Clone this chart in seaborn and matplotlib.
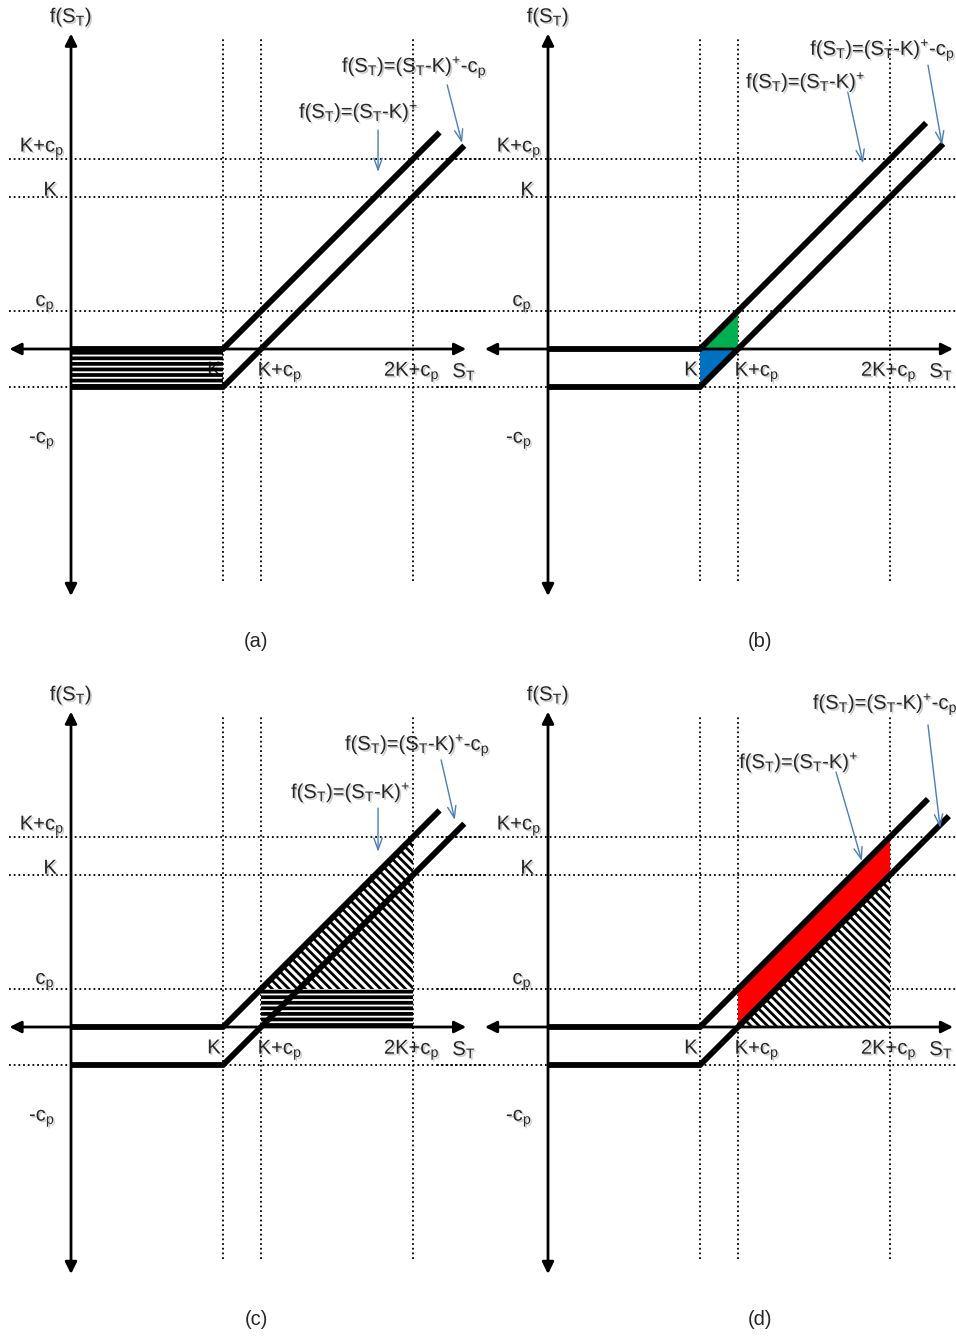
import matplotlib
matplotlib.use('Agg')
import matplotlib.pyplot as plt
import matplotlib.patheffects as pe
import seaborn as sns

sns.set_theme(style='white')
plt.rcParams['font.family'] = ['Liberation Sans', 'DejaVu Sans']
plt.rcParams['mathtext.fontset'] = 'custom'
plt.rcParams['mathtext.rm'] = 'Liberation Sans'
plt.rcParams['mathtext.it'] = 'Liberation Sans:italic'
plt.rcParams['hatch.linewidth'] = 2.5
plt.rcParams['hatch.color'] = 'black'

# parametros da opcao (unidades do desenho)
K = 4.0
cp = 1.0

panel_names = ['(a)', '(b)', '(c)', '(d)']
y_levels = [K + cp, K, cp, -cp]
y_tick_text = ['K+c$_\\mathrm{p}$', 'K', 'c$_\\mathrm{p}$', '-c$_\\mathrm{p}$']
x_levels = [K, K + cp, 2 * K + cp]
x_tick_text = ['K', 'K+c$_\\mathrm{p}$', '2K+c$_\\mathrm{p}$', 'S$_\\mathrm{T}$']
f_text = 'f(S$_\\mathrm{T}$)'
long_text = 'f(S$_\\mathrm{T}$)=(S$_\\mathrm{T}$-K)$^\\mathrm{+}$'
net_text = 'f(S$_\\mathrm{T}$)=(S$_\\mathrm{T}$-K)$^\\mathrm{+}$-c$_\\mathrm{p}$'

# fim das duas retas de payoff, lido em cada painel
st_long_end = [9.7, 9.95, 9.7, 10.0]
f_long_end = [5.7, 5.95, 5.7, 6.0]
st_net_end = [10.35, 10.4, 10.35, 10.55]
f_net_end = [5.35, 5.4, 5.35, 5.55]

# ---- layout (pixels) ----
W, H = 956, 1337
U = 38.0
quads = [(0, 0, 478, 668, 71, 349), (478, 0, 478, 668, 548, 349),
         (0, 668, 478, 669, 71, 1027), (478, 668, 478, 669, 548, 1027)]
xaxis_span = [(-1.62, 10.4), (-1.66, 10.66), (-1.62, 10.4), (-1.66, 10.66)]
hline_start = [-1.62, -2.92, -1.62, -2.92]
caption_x = [4.87, 5.58, 4.87, 5.58]
y_label_pos = [(-0.76, 5.3), (-0.55, 4.18), (-0.68, 1.2), (-0.76, -2.4)]
x_label_pos = [(3.76, -0.55), (5.5, -0.6), (8.97, -0.6), (10.35, -0.6)]
net_note = [((7.13, 7.42), (9.9, 6.95), (10.29, 5.42)),
            ((6.9, 7.87), (10.0, 7.47), (10.37, 5.37)),
            ((7.21, 7.42), (9.74, 7.03), (10.1, 5.45)),
            ((6.97, 8.5), (10.0, 7.95), (10.32, 5.24))]
long_note = [((6.0, 6.24), (8.08, 5.76), (8.08, 4.66)),
             ((5.21, 7.03), (7.89, 6.76), (8.29, 4.89)),
             ((5.79, 6.18), (8.08, 5.76), (8.08, 4.61)),
             ((5.03, 6.97), (7.58, 6.71), (8.26, 4.37))]

FS = 14.5
shadow = [pe.SimplePatchShadow(offset=(1.2, -1.2), shadow_rgbFace='0.55', alpha=0.45), pe.Normal()]
blue = '#4A7EBB'


def hatched(ax, xs, ys, pattern, hlw):
    polys = ax.fill(xs, ys, facecolor='none', edgecolor='black', hatch=pattern, lw=0, zorder=2)
    for p in polys:
        if hasattr(p, 'set_hatch_linewidth'):
            p.set_hatch_linewidth(hlw)


fig = plt.figure(figsize=(W / 100, H / 100), dpi=100)

for i, (left, top, w, h, ox, oy) in enumerate(quads):
    ax = fig.add_axes([left / W, 1 - (top + h) / H, w / W, h / H])
    ax.set_xlim((left - ox) / U, (left + w - ox) / U)
    ax.set_ylim((oy - (top + h)) / U, (oy - top) / U)
    ax.axis('off')

    # linhas pontilhadas
    for yl in y_levels:
        ax.plot([hline_start[i], 10.95], [yl, yl], color='black', lw=1.3,
                ls=(0, (1, 1.6)), zorder=1, clip_on=False)
    for xl in x_levels:
        ax.plot([xl, xl], [-6.1, 8.2], color='black', lw=1.3,
                ls=(0, (1, 1.6)), zorder=1)

    # areas
    if i == 0:
        hatched(ax, [0, K, K, 0], [0, 0, -cp, -cp], '---', 2.7)
    elif i == 1:
        ax.fill([K, K + cp, K + cp], [0, cp, 0], color='#00B050', lw=0, zorder=2)
        ax.fill([K, K, K + cp], [0, -cp, 0], color='#0070C0', lw=0, zorder=2)
    elif i == 2:
        ax.fill([K + cp, 2 * K + cp, 2 * K + cp, K + cp], [0, 0, cp, cp],
                color='white', lw=0, zorder=2)
        hatched(ax, [K + cp, 2 * K + cp, 2 * K + cp, K + cp], [0, 0, cp, cp], '---', 2.7)
        ax.fill([K + cp, 2 * K + cp, 2 * K + cp], [cp, K + cp, cp], color='white', lw=0, zorder=2)
        hatched(ax, [K + cp, 2 * K + cp, 2 * K + cp], [cp, K + cp, cp], '\\\\\\\\', 2.0)
    else:
        ax.fill([K + cp, 2 * K + cp, 2 * K + cp, K + cp], [cp, K + cp, K, 0],
                color='#FF0000', lw=0, zorder=2)
        ax.fill([K + cp, 2 * K + cp, 2 * K + cp], [0, K, 0], color='white', lw=0, zorder=2)
        hatched(ax, [K + cp, 2 * K + cp, 2 * K + cp], [0, K, 0], '\\\\\\\\', 2.0)

    # eixos com setas
    ax.annotate('', xy=(xaxis_span[i][1], 0), xytext=(xaxis_span[i][0], 0),
                arrowprops=dict(arrowstyle='<|-|>,head_length=0.5,head_width=0.25', lw=2,
                                color='black', shrinkA=0, shrinkB=0, mutation_scale=14),
                annotation_clip=False, zorder=3)
    ax.annotate('', xy=(0, 8.3), xytext=(0, -6.5),
                arrowprops=dict(arrowstyle='<|-|>,head_length=0.5,head_width=0.25', lw=2,
                                color='black', shrinkA=0, shrinkB=0, mutation_scale=14),
                annotation_clip=False, zorder=3)

    # retas de payoff
    sns.lineplot(x=[0, K, st_long_end[i]], y=[0, 0, f_long_end[i]], ax=ax, color='black',
                 lw=4.2, estimator=None, sort=False, solid_capstyle='butt',
                 solid_joinstyle='miter', zorder=4)
    sns.lineplot(x=[0, K, st_net_end[i]], y=[-cp, -cp, f_net_end[i]], ax=ax, color='black',
                 lw=4.2, estimator=None, sort=False, solid_capstyle='butt',
                 solid_joinstyle='miter', zorder=4)

    # textos
    for (tx, ty), s in zip(y_label_pos, y_tick_text):
        ax.text(tx, ty, s, fontsize=FS, ha='center', va='center', path_effects=shadow, zorder=1)
    for (tx, ty), s in zip(x_label_pos, x_tick_text):
        ax.text(tx, ty, s, fontsize=FS, ha='center', va='center', path_effects=shadow,
                zorder=1, clip_on=False)
    ax.text(0, 8.74, f_text, fontsize=FS, ha='center', va='center', path_effects=shadow)
    ax.text(caption_x[i], -7.71, panel_names[i], fontsize=FS, ha='center', va='center')

    for (pos, a0, a1), s in ((net_note[i], net_text), (long_note[i], long_text)):
        ax.text(pos[0], pos[1], s, fontsize=FS, ha='left', va='center',
                path_effects=shadow, zorder=5)
        ax.annotate('', xy=a1, xytext=a0,
                    arrowprops=dict(arrowstyle='->,head_length=0.7,head_width=0.25',
                                    lw=1.0, color=blue, shrinkA=0, shrinkB=0,
                                    mutation_scale=12),
                    annotation_clip=False, zorder=5)

fig.savefig('out.png', dpi=100)
